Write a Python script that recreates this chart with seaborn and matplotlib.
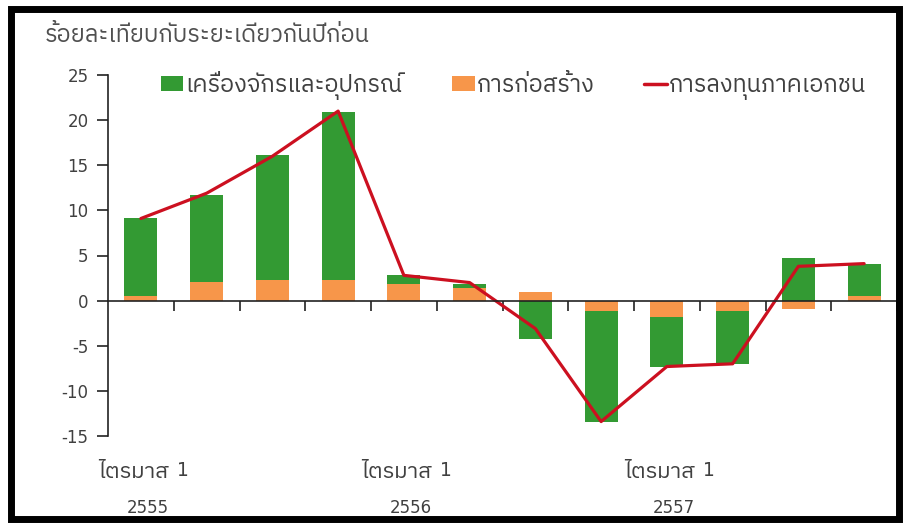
import os

import matplotlib
matplotlib.use("Agg")
import matplotlib.pyplot as plt
import matplotlib.transforms as mtransforms
import numpy as np
import seaborn as sns
from matplotlib import font_manager
from matplotlib.lines import Line2D
from matplotlib.patches import Patch, Rectangle

# ข้อมูลจากกราฟ (ร้อยละ yoy)
quarters = ["Q1/55", "Q2/55", "Q3/55", "Q4/55",
            "Q1/56", "Q2/56", "Q3/56", "Q4/56",
            "Q1/57", "Q2/57", "Q3/57", "Q4/57"]
machinery = [8.6, 9.6, 13.8, 18.6, 0.95, 0.45, -4.3, -12.3, -5.55, -5.8, 4.75, 3.55]
construction = [0.5, 2.1, 2.3, 2.3, 1.85, 1.4, 1.0, -1.1, -1.85, -1.2, -0.95, 0.55]
private_inv = [9.1, 11.9, 16.0, 21.0, 2.8, 2.0, -3.1, -13.4, -7.3, -7.0, 3.8, 4.1]

year_pos = [0, 4, 8]
year_labels = ["2555", "2556", "2557"]
q_word = "ไตรมาส"
q_num = "1"
yticks = [-15, -10, -5, 0, 5, 10, 15, 20, 25]

title = "ร้อยละเทียบกับระยะเดียวกันปีก่อน"
legend_labels = ["เครื่องจักรและอุปกรณ์", "การก่อสร้าง", "การลงทุนภาคเอกชน"]

GREEN = "#339a33"
ORANGE = "#f7964a"
RED = "#cc1020"
TXT = "#404040"

# หาฟอนต์ไทย
thai_name = None
for fname in ["IBMPlexSansThai-Regular.ttf", "NotoSansThai-Regular.ttf", "Sarabun-Regular.ttf", "Kanit-Regular.ttf"]:
    for root in ["/usr/share/fonts/truetype/google-fonts", "/usr/share/fonts/truetype/noto", "/usr/share/fonts"]:
        p = os.path.join(root, fname)
        if os.path.exists(p):
            font_manager.fontManager.addfont(p)
            thai_name = font_manager.FontProperties(fname=p).get_name()
            break
    if thai_name:
        break

sns.set_style("white")
families = ["DejaVu Sans"] + ([thai_name] if thai_name else [])
plt.rcParams["font.family"] = families

# ซ้อนแท่ง: ส่วนเครื่องจักรต่อจากการก่อสร้างถ้าเครื่องหมายเดียวกัน
mach = np.array(machinery)
cons = np.array(construction)
base = np.where(np.sign(mach) == np.sign(cons), cons, 0)
mach_top = mach + base

fig = plt.figure(figsize=(9.05, 5.25), dpi=100)
ax = fig.add_axes([108 / 905, 89 / 525, 789 / 905, 361 / 525])

sns.barplot(x=quarters, y=mach_top, color=GREEN, saturation=1, width=0.5, linewidth=0, ax=ax)
sns.barplot(x=quarters, y=cons, color=ORANGE, saturation=1, width=0.5, linewidth=0, ax=ax)
sns.lineplot(x=np.arange(len(quarters)), y=private_inv, color=RED, linewidth=2.3, ax=ax)

ax.set_xlim(-0.5, len(quarters) - 0.5)
ax.set_ylim(-15, 25)
ax.set_yticks(yticks)
ax.set_yticklabels([str(v) for v in yticks], color=TXT, fontsize=12)
ax.set_xticks(np.arange(len(quarters)) + 0.5)
ax.set_xticklabels([])
ax.set_xlabel("")
ax.set_ylabel("")

for s in ["top", "right"]:
    ax.spines[s].set_visible(False)
ax.spines["bottom"].set_position(("data", 0))
ax.spines["bottom"].set_color("#222222")
ax.spines["left"].set_color("#222222")
ax.spines["bottom"].set_linewidth(1.2)
ax.spines["left"].set_linewidth(1.2)
ax.tick_params(axis="y", direction="out", length=8, width=1.2, color="#222222", pad=6, left=True)
ax.tick_params(axis="x", direction="out", length=7, width=1.2, color="#222222", bottom=True)

# ป้ายไตรมาส/ปี ใต้แกน
trans = mtransforms.blended_transform_factory(ax.transData, fig.transFigure)
left_shift = trans + mtransforms.ScaledTranslation(0.28, 0, fig.dpi_scale_trans)
right_shift = trans + mtransforms.ScaledTranslation(0.36, 0, fig.dpi_scale_trans)
for pos, yr in zip(year_pos, year_labels):
    ax.text(pos, 1 - 472 / 525, q_word, transform=left_shift, ha="right", va="center",
            fontsize=16, color=TXT)
    ax.text(pos, 1 - 471 / 525, q_num, transform=right_shift, ha="left", va="center",
            fontsize=13.5, color=TXT)
    ax.text(pos + 0.1, 1 - 508 / 525, yr, transform=trans, ha="center", va="center",
            fontsize=12, color=TXT)

fig.text(45 / 905, 1 - 35 / 525, title, ha="left", va="center", fontsize=17, color="#505050")

handles = [Patch(facecolor=GREEN, edgecolor="none"),
           Patch(facecolor=ORANGE, edgecolor="none"),
           Line2D([], [], color=RED, linewidth=2.5)]
ax.legend(handles, legend_labels, loc="center", bbox_to_anchor=(0.514, 0.972), ncol=3,
          frameon=False, fontsize=17, handlelength=0.95, handleheight=0.6,
          handletextpad=0.1, columnspacing=2.1, labelcolor=TXT)

# กรอบดำรอบภาพ
fig.patches.append(Rectangle((11 / 905, 6 / 525), 888 / 905, 510 / 525, transform=fig.transFigure,
                             fill=False, edgecolor="black", linewidth=5))

fig.savefig("out.png", dpi=100)
